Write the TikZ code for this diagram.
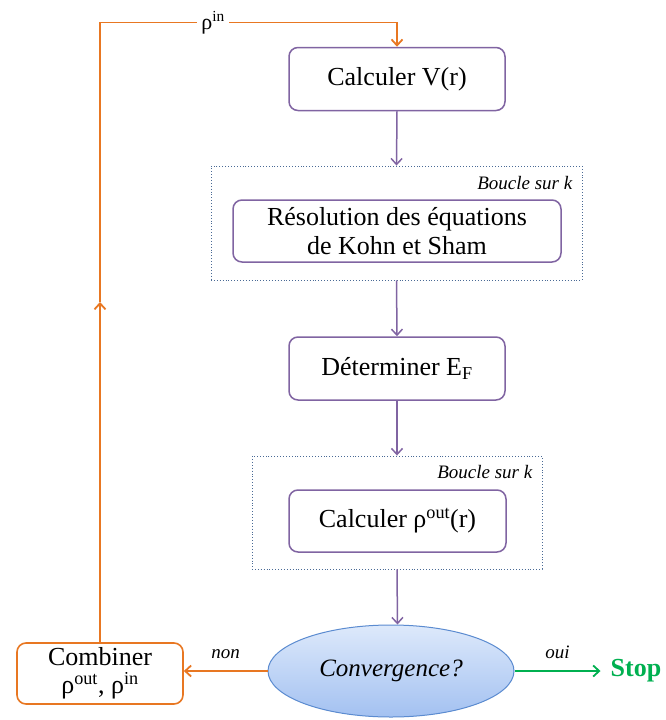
\documentclass[tikz,border=0pt]{standalone}
\usepackage{fontspec}
\setmainfont{Liberation Serif}
\usetikzlibrary{arrows.meta,shapes.geometric}
\definecolor{stepline}{HTML}{8064A2}
\definecolor{loopline}{HTML}{4A6A96}
\definecolor{mixline}{HTML}{E87722}
\definecolor{okgreen}{HTML}{00B050}
\definecolor{ovalline}{HTML}{5B8BD0}
\definecolor{ovaltop}{HTML}{DDE9FB}
\definecolor{ovalbottom}{HTML}{A3C1F1}
\tikzset{
  stepbox/.style={draw=stepline, line width=1.5pt, rounded corners=9pt,
    fill=white, minimum width=216pt, minimum height=63pt, inner sep=0pt,
    align=center, font=\fontsize{26}{29}\selectfont},
  loopframe/.style={draw=loopline, line width=0.9pt, dotted, inner sep=0pt},
  looplabel/.style={anchor=north east, inner sep=0pt, font=\fontsize{19}{21}\selectfont\itshape},
  tip/.style={-{Straight Barb[length=6pt,width=11pt,line width=#1]}},
  flow/.style={draw=stepline, line width=1.5pt, tip=1.5pt},
  mixflow/.style={draw=mixline, line width=1.8pt, tip=1.8pt},
  okflow/.style={draw=okgreen, line width=1.8pt, tip=1.8pt},
  branch/.style={inner sep=0pt, font=\fontsize{19}{21}\selectfont\itshape},
}
\begin{document}
\begin{tikzpicture}[x=1pt,y=-1pt]
\useasboundingbox (0,0) rectangle (666,720);

% main chain of steps
\node[stepbox] (pot) at (397,79) {Calculer V(r)};

\node[loopframe, minimum width=371pt, minimum height=114pt] (loopA) at (396.5,223) {};
\node[looplabel] (labA) at ([xshift=-10pt,yshift=-11pt]loopA.north east) {Boucle sur k};
\node[stepbox, minimum width=328pt, minimum height=62pt] (ks) at (397,231)
  {Résolution des équations\\de Kohn et Sham};

\node[stepbox] (fermi) at (397,368.5) {Déterminer E\textsubscript{F}};

\node[loopframe, minimum width=290pt, minimum height=113pt] (loopB) at (397,512.5) {};
\node[looplabel] (labB) at ([xshift=-10pt,yshift=-10pt]loopB.north east) {Boucle sur k};
\node[stepbox, minimum width=217pt, minimum height=62pt] (dens) at (397.5,521)
  {Calculer ρ\textsuperscript{out}(r)};

\node[ellipse, draw=ovalline, line width=1pt, top color=ovaltop, bottom color=ovalbottom,
  minimum width=246pt, minimum height=92pt, inner sep=0pt,
  font=\fontsize{25}{29}\selectfont\itshape] (conv) at (391,671) {Convergence?};

\node[draw=mixline, line width=1.6pt, rounded corners=9pt, minimum width=166pt,
  minimum height=61pt, inner sep=0pt, align=center,
  font=\fontsize{26}{28}\selectfont] (mix) at (100,673.5)
  {Combiner\\ρ\textsuperscript{out}, ρ\textsuperscript{in}};

\node[inner sep=0pt, text=okgreen, font=\fontsize{26}{28}\selectfont\bfseries] (stop) at (636,671) {Stop};

% connectors
\draw[flow] (pot.south) -- (loopA.north);
\draw[flow] (loopA.south) -- (fermi.north);
\draw[flow] (fermi.south) -- (loopB.north);
\draw[flow] (loopB.south) -- (dens.south |- conv.north);

\draw[mixflow] (conv.west) -- node[branch, above=11pt] (no) {non} (conv.west -| mix.east);
\draw[okflow] (conv.east) -- node[branch, above=11pt] (yes) {oui} ([xshift=-10pt]stop.west);

% feedback loop of the density
\coordinate (mid) at (mix.north |- 0,302);
\coordinate (corner) at (mix.north |- 0,22.5);
\draw[mixflow] (mix.north) -- (mid);
\draw[mixflow] (mid) -- (corner) -| (pot.north);
\node[fill=white, inner sep=4pt, font=\fontsize{22}{24}\selectfont] (rin) at (213,22.5) {ρ\textsuperscript{in}};
\end{tikzpicture}
\end{document}
